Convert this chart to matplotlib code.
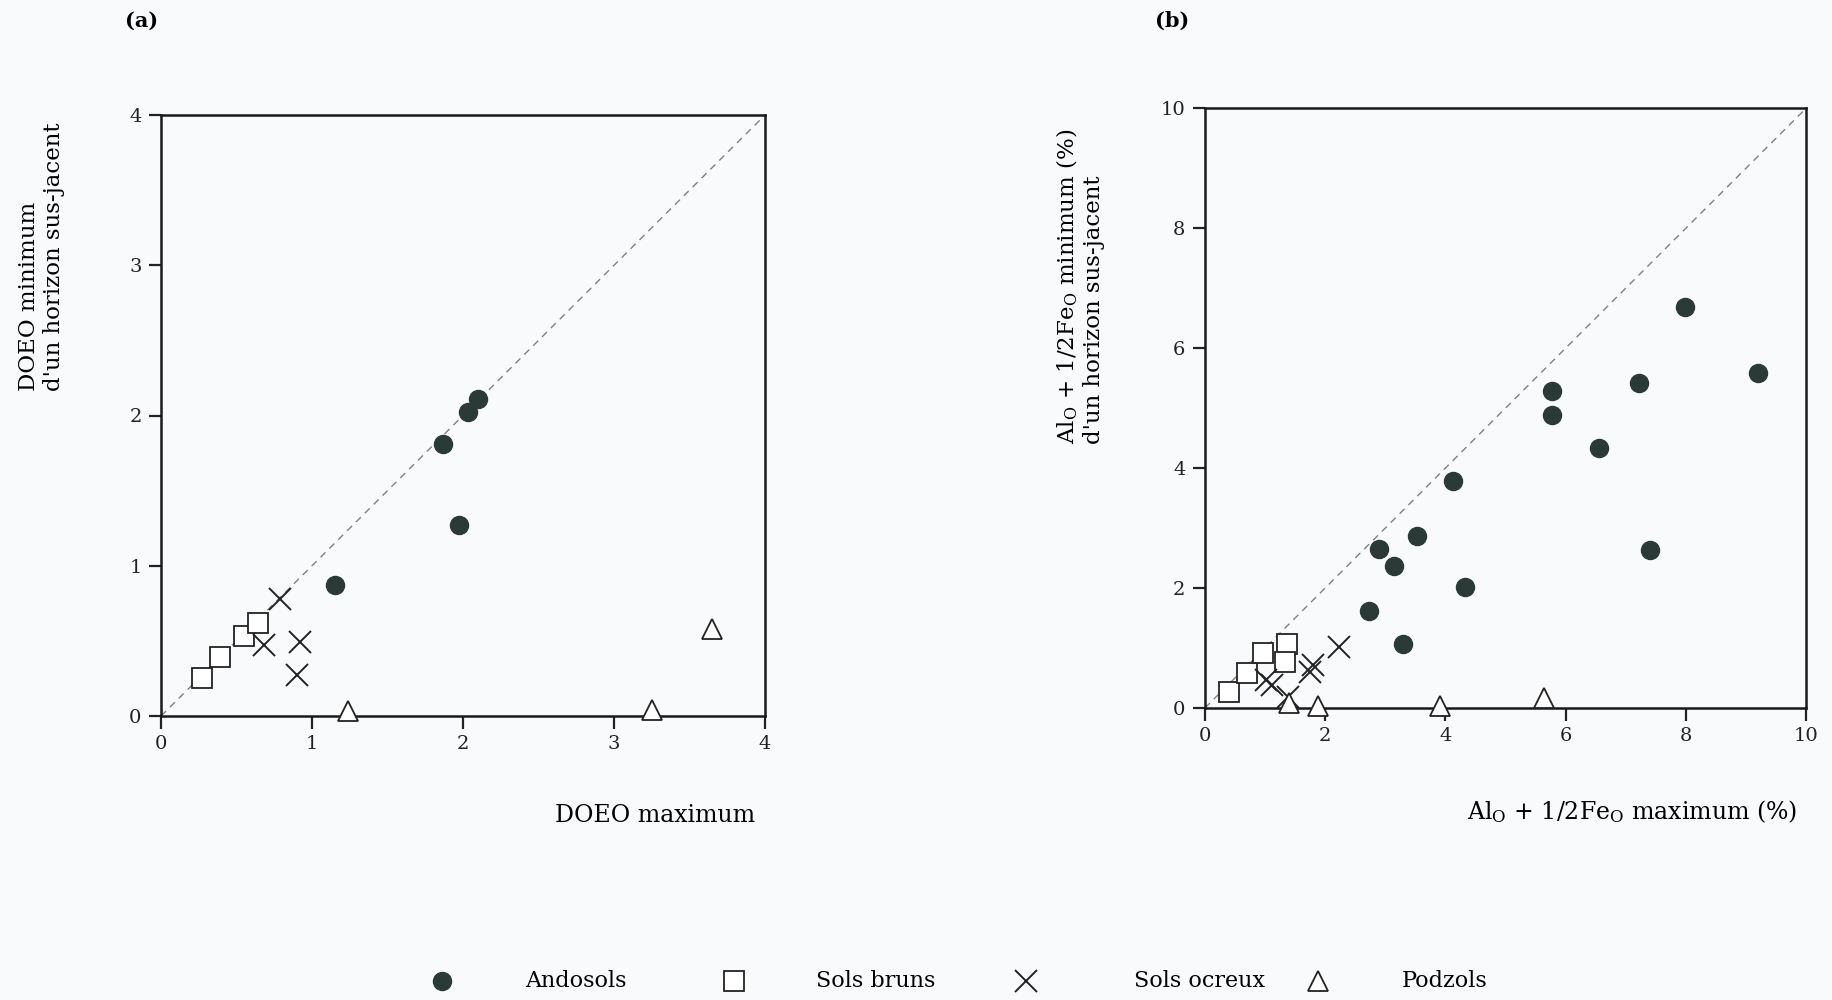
import matplotlib
matplotlib.use("Agg")
import matplotlib.pyplot as plt
from matplotlib.lines import Line2D

plt.rcParams['font.family'] = ['DejaVu Serif']
plt.rcParams['mathtext.fontset'] = 'dejavuserif'

# ---- panel (a): DOEO ----
a_ando_x = [2.10, 2.03, 1.87, 1.97, 1.15]
a_ando_y = [2.11, 2.02, 1.81, 1.27, 0.87]
a_brun_x = [0.27, 0.39, 0.55, 0.64]
a_brun_y = [0.25, 0.39, 0.53, 0.62]
a_ocre_x = [0.79, 0.68, 0.92, 0.90]
a_ocre_y = [0.78, 0.47, 0.49, 0.27]
a_podz_x = [1.24, 3.25, 3.65]
a_podz_y = [0.03, 0.04, 0.58]

# ---- panel (b): Al_o + 1/2 Fe_o ----
b_ando_x = [9.19, 7.99, 7.21, 7.40, 6.55, 5.77, 5.77, 4.12, 3.52, 2.90, 3.15, 4.32, 2.73, 3.30]
b_ando_y = [5.59, 6.68, 5.42, 2.63, 4.33, 5.28, 4.89, 3.78, 2.87, 2.65, 2.36, 2.01, 1.61, 1.06]
b_brun_x = [0.40, 0.70, 0.97, 1.36, 1.33]
b_brun_y = [0.26, 0.58, 0.92, 1.06, 0.77]
b_ocre_x = [2.23, 1.80, 1.75, 1.02, 1.11, 1.38]
b_ocre_y = [1.01, 0.72, 0.60, 0.47, 0.38, 0.18]
b_podz_x = [1.40, 1.88, 3.91, 5.64]
b_podz_y = [0.08, 0.03, 0.04, 0.16]

groups = ["Andosols", "Sols bruns", "Sols ocreux", "Podzols"]
# legend key / label positions (figure fraction)
legend_key_x = [0.2410, 0.4004, 0.5598, 0.7192]
legend_txt_x = [0.2869, 0.4456, 0.6190, 0.7650]

BG = '#f9fafb'
DARK = '#2b3a37'
styles = {
    "Andosols": dict(marker='o', ms=13, mfc=DARK, mec=DARK, mew=1.0),
    "Sols bruns": dict(marker='s', ms=15, mfc='white', mec='#222222', mew=1.3),
    "Sols ocreux": dict(marker='x', ms=16, mfc='none', mec='#222222', mew=1.4),
    "Podzols": dict(marker='^', ms=15, mfc='white', mec='#222222', mew=1.3),
}

fig = plt.figure(figsize=(18.32, 10), dpi=100, facecolor=BG)
ax_a = fig.add_axes([0.0879, 0.284, 0.3297, 0.601])
ax_b = fig.add_axes([0.6577, 0.292, 0.3283, 0.600])


def draw_panel(ax, series, lim, ticks):
    ax.set_facecolor(BG)
    ax.plot([0, lim], [0, lim], linestyle=(0, (5, 4)), color='#808080', lw=1.0, zorder=1)
    for name, (xs, ys) in zip(groups, series):
        ax.plot(xs, ys, linestyle='none', zorder=3, clip_on=False, **styles[name])
    ax.set_xlim(0, lim)
    ax.set_ylim(0, lim)
    ax.set_xticks(ticks)
    ax.set_yticks(ticks)
    ax.tick_params(direction='out', length=9, width=1.6, labelsize=14, pad=5, colors='#222222')
    for s in ax.spines.values():
        s.set_linewidth(1.8)
        s.set_color('#1a1a1a')


draw_panel(ax_a, [(a_ando_x, a_ando_y), (a_brun_x, a_brun_y),
                  (a_ocre_x, a_ocre_y), (a_podz_x, a_podz_y)], 4, [0, 1, 2, 3, 4])
draw_panel(ax_b, [(b_ando_x, b_ando_y), (b_brun_x, b_brun_y),
                  (b_ocre_x, b_ocre_y), (b_podz_x, b_podz_y)], 10, [0, 2, 4, 6, 8, 10])

# axis labels
fig.text(0.412, 0.185, "DOEO maximum", ha='right', va='center', fontsize=17)
fig.text(0.981, 0.188, r"Al$_{\mathregular{O}}$ + 1/2Fe$_{\mathregular{O}}$ maximum (%)",
         ha='right', va='center', fontsize=17)
fig.text(0.0225, 0.609, "DOEO minimum\nd'un horizon sus-jacent", rotation=90,
         ha='center', va='bottom', multialignment='left', fontsize=16.5, linespacing=1.2)
fig.text(0.5896, 0.556,
         "Al$_{\\mathregular{O}}$ + 1/2Fe$_{\\mathregular{O}}$ minimum (%)\nd'un horizon sus-jacent",
         rotation=90, ha='center', va='bottom', multialignment='left', fontsize=16.5,
         linespacing=1.2)

# panel letters
fig.text(0.077, 0.979, "(a)", ha='center', va='center', fontsize=15, fontweight='bold')
fig.text(0.640, 0.979, "(b)", ha='center', va='center', fontsize=15, fontweight='bold')

# legend, laid out by hand to keep the even spacing of the original
for g, kx, tx in zip(groups, legend_key_x, legend_txt_x):
    fig.add_artist(Line2D([kx], [0.019], linestyle='none', transform=fig.transFigure,
                          **styles[g]))
    fig.text(tx, 0.019, g, ha='left', va='center', fontsize=16)

fig.savefig("out.png", dpi=100, facecolor=BG)
